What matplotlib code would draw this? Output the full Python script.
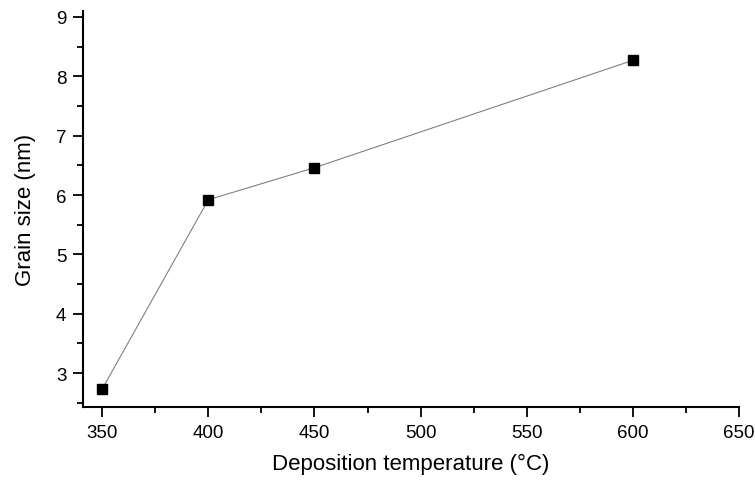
import matplotlib
matplotlib.use("Agg")
import matplotlib.pyplot as plt
from matplotlib.ticker import MultipleLocator

# --- Data ---
temps = [350, 400, 450, 600]
grain_size = [2.73, 5.92, 6.46, 8.27]

plt.rcParams["font.family"] = ["Liberation Sans", "DejaVu Sans"]

fig = plt.figure(figsize=(7.55, 4.81), dpi=100)
ax = fig.add_axes([0.110, 0.152, 0.869, 0.823])

ax.plot(temps, grain_size, color="#808080", linewidth=0.8, zorder=1)
ax.plot(temps, grain_size, linestyle="none", marker="s", markersize=6.5,
        color="black", zorder=2)

ax.set_xlim(341, 650)
ax.set_ylim(2.43, 9.1)
ax.xaxis.set_major_locator(MultipleLocator(50))
ax.xaxis.set_minor_locator(MultipleLocator(25))
ax.yaxis.set_major_locator(MultipleLocator(1))
ax.yaxis.set_minor_locator(MultipleLocator(0.5))

for side in ("top", "right"):
    ax.spines[side].set_visible(False)
for side in ("left", "bottom"):
    ax.spines[side].set_linewidth(1.5)

ax.tick_params(which="major", direction="out", length=7, width=1.3,
               labelsize=13.5, pad=5)
ax.tick_params(which="minor", direction="out", length=4, width=1.3)

ax.set_xlabel("Deposition temperature (°C)", fontsize=16, labelpad=9)
ax.set_ylabel("Grain size (nm)", fontsize=16, labelpad=14)

fig.savefig("out.png", dpi=100)
